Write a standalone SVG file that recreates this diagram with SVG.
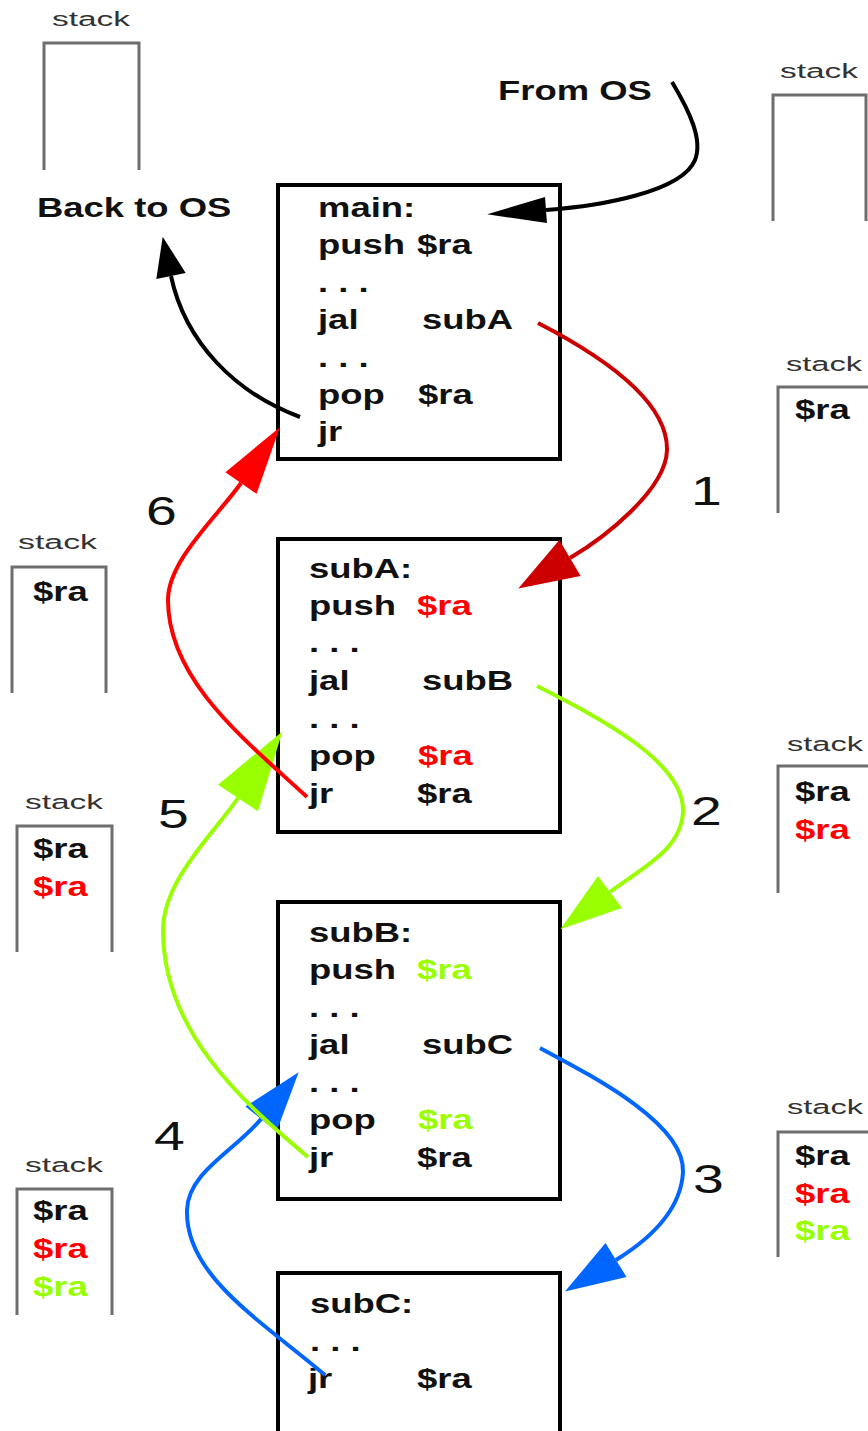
<svg xmlns="http://www.w3.org/2000/svg" width="868" height="1431" viewBox="0 0 868 1431">
  <style>
    .box { fill: #fff; stroke: #000; stroke-width: 4; }
    .stk { fill: none; stroke: #6e6e6e; stroke-width: 3; }
    .code { font-family: "Liberation Sans", Arial, sans-serif; font-weight: bold; font-size: 27px; fill: #111; }
    .num { font-family: "Liberation Sans", Arial, sans-serif; font-size: 41px; fill: #111; }
    .lbl { font-family: "Liberation Sans", Arial, sans-serif; font-size: 20px; fill: #333; }
    .red { fill: #ff0000; }
    .grn { fill: #99ff00; }
    .wire { fill: none; stroke-width: 4; }
  </style>
  <defs>
    <marker id="m-os" markerUnits="userSpaceOnUse" orient="auto" markerWidth="59" markerHeight="26" refX="0" refY="13" overflow="visible">
      <path d="M0,0 L59,13 L0,26 z" fill="#000"/>
    </marker>
    <marker id="m-back" markerUnits="userSpaceOnUse" orient="auto" markerWidth="40" markerHeight="30" refX="0" refY="15" overflow="visible">
      <path d="M0,0 L40,15 L0,30 z" fill="#000"/>
    </marker>
    <marker id="m-darkred" markerUnits="userSpaceOnUse" orient="auto" markerWidth="60" markerHeight="42" refX="0" refY="21" overflow="visible">
      <path d="M0,0 L60,21 L0,42 z" fill="#cc0000"/>
    </marker>
    <marker id="m-red" markerUnits="userSpaceOnUse" orient="auto" markerWidth="68" markerHeight="38" refX="0" refY="19" overflow="visible">
      <path d="M0,0 L68,19 L0,38 z" fill="#ff0000"/>
    </marker>
    <marker id="m-green" markerUnits="userSpaceOnUse" orient="auto" markerWidth="62" markerHeight="40" refX="0" refY="20" overflow="visible">
      <path d="M0,0 L62,20 L0,40 z" fill="#99ff00"/>
    </marker>
    <marker id="m-green-lg" markerUnits="userSpaceOnUse" orient="auto" markerWidth="80" markerHeight="48" refX="0" refY="24" overflow="visible">
      <path d="M0,0 L80,24 L0,48 z" fill="#99ff00"/>
    </marker>
    <marker id="m-blue" markerUnits="userSpaceOnUse" orient="auto" markerWidth="60" markerHeight="40" refX="0" refY="20" overflow="visible">
      <path d="M0,0 L60,20 L0,40 z" fill="#0066ff"/>
    </marker>
  </defs>

  <rect width="868" height="1431" fill="#fff"/>

  <!-- stack snapshots -->
  <g id="stack-start">
    <text class="lbl" x="52" y="26" textLength="78" lengthAdjust="spacingAndGlyphs">stack</text>
    <path class="stk" d="M44,170 V43 H139 V170"/>
  </g>
  <g id="stack-entry">
    <text class="lbl" x="780" y="78" textLength="78" lengthAdjust="spacingAndGlyphs">stack</text>
    <path class="stk" d="M773,221 V95 H866 V221"/>
  </g>
  <g id="stack-1">
    <text class="lbl" x="786" y="371" textLength="76" lengthAdjust="spacingAndGlyphs">stack</text>
    <path class="stk" d="M778,513 V387 H872"/>
    <text class="code" transform="translate(795 419) scale(1.35 1)">$ra</text>
  </g>
  <g id="stack-2">
    <text class="lbl" x="787" y="751" textLength="76" lengthAdjust="spacingAndGlyphs">stack</text>
    <path class="stk" d="M778,893 V766 H872"/>
    <text class="code" transform="translate(795 801) scale(1.35 1)">$ra</text>
    <text class="code red" transform="translate(795 839) scale(1.35 1)">$ra</text>
  </g>
  <g id="stack-3">
    <text class="lbl" x="787" y="1114" textLength="76" lengthAdjust="spacingAndGlyphs">stack</text>
    <path class="stk" d="M778,1257 V1132 H872"/>
    <text class="code" transform="translate(795 1165) scale(1.35 1)">$ra</text>
    <text class="code red" transform="translate(795 1203) scale(1.35 1)">$ra</text>
    <text class="code grn" transform="translate(795 1240) scale(1.35 1)">$ra</text>
  </g>
  <g id="stack-ret-3">
    <text class="lbl" x="25" y="1172" textLength="78" lengthAdjust="spacingAndGlyphs">stack</text>
    <path class="stk" d="M17,1315 V1189 H112 V1315"/>
    <text class="code" transform="translate(33 1220) scale(1.35 1)">$ra</text>
    <text class="code red" transform="translate(33 1258) scale(1.35 1)">$ra</text>
    <text class="code grn" transform="translate(33 1296) scale(1.35 1)">$ra</text>
  </g>
  <g id="stack-ret-2">
    <text class="lbl" x="25" y="809" textLength="78" lengthAdjust="spacingAndGlyphs">stack</text>
    <path class="stk" d="M17,952 V826 H112 V952"/>
    <text class="code" transform="translate(33 858) scale(1.35 1)">$ra</text>
    <text class="code red" transform="translate(33 896) scale(1.35 1)">$ra</text>
  </g>
  <g id="stack-ret-1">
    <text class="lbl" x="18" y="549" textLength="79" lengthAdjust="spacingAndGlyphs">stack</text>
    <path class="stk" d="M12,693 V567 H106 V693"/>
    <text class="code" transform="translate(33 601) scale(1.35 1)">$ra</text>
  </g>

  <!-- routines -->
  <g id="main">
    <rect class="box" x="278" y="185" width="282" height="274"/>
    <text class="code" transform="translate(318 217) scale(1.35 1)">main:</text>
    <text class="code" transform="translate(318 254) scale(1.35 1)">push</text>
    <text class="code" transform="translate(417 254) scale(1.35 1)">$ra</text>
    <text class="code" transform="translate(318 292) scale(1.35 1)">. . .</text>
    <text class="code" transform="translate(318 329) scale(1.35 1)">jal</text>
    <text class="code" transform="translate(422 329) scale(1.35 1)">subA</text>
    <text class="code" transform="translate(318 367) scale(1.35 1)">. . .</text>
    <text class="code" transform="translate(318 404) scale(1.35 1)">pop</text>
    <text class="code" transform="translate(418 404) scale(1.35 1)">$ra</text>
    <text class="code" transform="translate(318 441) scale(1.35 1)">jr</text>
  </g>
  <g id="subA">
    <rect class="box" x="278" y="539" width="282" height="293"/>
    <text class="code" transform="translate(309 578) scale(1.35 1)">subA:</text>
    <text class="code" transform="translate(309 615) scale(1.35 1)">push</text>
    <text class="code red" transform="translate(417 615) scale(1.35 1)">$ra</text>
    <text class="code" transform="translate(309 652) scale(1.35 1)">. . .</text>
    <text class="code" transform="translate(309 690) scale(1.35 1)">jal</text>
    <text class="code" transform="translate(422 690) scale(1.35 1)">subB</text>
    <text class="code" transform="translate(309 728) scale(1.35 1)">. . .</text>
    <text class="code" transform="translate(309 765) scale(1.35 1)">pop</text>
    <text class="code red" transform="translate(418 765) scale(1.35 1)">$ra</text>
    <text class="code" transform="translate(309 803) scale(1.35 1)">jr</text>
    <text class="code" transform="translate(417 803) scale(1.35 1)">$ra</text>
  </g>
  <g id="subB">
    <rect class="box" x="278" y="902" width="282" height="297"/>
    <text class="code" transform="translate(309 942) scale(1.35 1)">subB:</text>
    <text class="code" transform="translate(309 979) scale(1.35 1)">push</text>
    <text class="code grn" transform="translate(417 979) scale(1.35 1)">$ra</text>
    <text class="code" transform="translate(309 1017) scale(1.35 1)">. . .</text>
    <text class="code" transform="translate(309 1054) scale(1.35 1)">jal</text>
    <text class="code" transform="translate(422 1054) scale(1.35 1)">subC</text>
    <text class="code" transform="translate(309 1092) scale(1.35 1)">. . .</text>
    <text class="code" transform="translate(309 1129) scale(1.35 1)">pop</text>
    <text class="code grn" transform="translate(418 1129) scale(1.35 1)">$ra</text>
    <text class="code" transform="translate(309 1167) scale(1.35 1)">jr</text>
    <text class="code" transform="translate(417 1167) scale(1.35 1)">$ra</text>
  </g>
  <g id="subC">
    <rect class="box" x="278" y="1273" width="282" height="180"/>
    <text class="code" transform="translate(310 1313) scale(1.35 1)">subC:</text>
    <text class="code" transform="translate(310 1351) scale(1.35 1)">. . .</text>
    <text class="code" transform="translate(308 1388) scale(1.35 1)">jr</text>
    <text class="code" transform="translate(417 1388) scale(1.35 1)">$ra</text>
  </g>

  <g id="os-labels">
    <text class="code" transform="translate(498 100) scale(1.35 1)">From OS</text>
    <text class="code" transform="translate(37 217) scale(1.35 1)">Back to OS</text>
  </g>

  <!-- calls and returns -->
  <g id="connectors">
    <path class="wire" stroke="#000" marker-end="url(#m-os)" d="M672,82 C690,112 703,140 695,160 C682,192 600,206 546,210"/>
    <path class="wire" stroke="#000" marker-end="url(#m-back)" d="M300,417 C235,393 185,342 171,276"/>
    <path class="wire" stroke="#cc0000" marker-end="url(#m-darkred)" d="M538,323 C600,355 668,400 667,450 C666,490 604,538 570,558"/>
    <path class="wire" stroke="#99ff00" marker-end="url(#m-green)" d="M537,686 C600,718 685,762 683,812 C681,850 642,868 610,892"/>
    <path class="wire" stroke="#0066ff" marker-end="url(#m-blue)" d="M540,1048 C600,1080 685,1125 683,1172 C681,1210 650,1239 616,1260"/>
    <path class="wire" stroke="#0066ff" marker-end="url(#m-blue)" d="M325,1375 C260,1320 185,1275 187,1210 C188,1172 236,1150 261,1119"/>
    <path class="wire" stroke="#99ff00" marker-end="url(#m-green-lg)" d="M308,1157 C240,1100 163,1030 163,930 C163,880 216,831 238,798"/>
    <path class="wire" stroke="#ff0000" marker-end="url(#m-red)" d="M307,797 C245,740 168,680 168,600 C168,560 218,516 241,483"/>
  </g>

  <g id="step-numbers">
    <text class="num" transform="translate(691 505) scale(1.35 1)">1</text>
    <text class="num" transform="translate(691 825) scale(1.35 1)">2</text>
    <text class="num" transform="translate(693 1193) scale(1.35 1)">3</text>
    <text class="num" transform="translate(154 1150) scale(1.35 1)">4</text>
    <text class="num" transform="translate(158 828) scale(1.35 1)">5</text>
    <text class="num" transform="translate(146 525) scale(1.35 1)">6</text>
  </g>
</svg>
